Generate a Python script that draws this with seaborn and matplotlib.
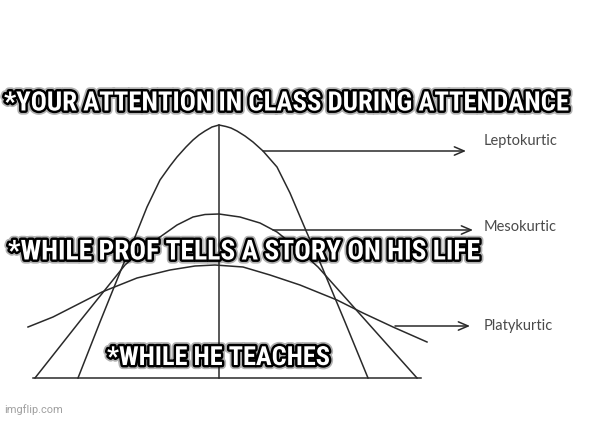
import matplotlib
matplotlib.use("Agg")
import matplotlib.pyplot as plt
import matplotlib.patheffects as pe
import seaborn as sns

# curves: x position and height above the baseline (px)
lepto_x = [78, 100, 123, 135, 147, 160, 170, 177, 186, 193, 199, 205, 212, 219, 226, 231, 237, 245, 253, 263, 277, 290, 307, 322, 345, 368]
lepto_h = [0, 56, 113, 141, 171, 198, 212, 221, 231, 238, 243, 247, 251, 253, 251.5, 250, 247, 242, 236, 227, 211, 185, 145, 111, 56, 0]

meso_x = [35, 80, 125, 142, 160, 177, 193, 205, 219, 240, 260, 277, 297, 318, 367, 417]
meso_h = [0, 57, 113, 128, 141, 153, 161, 163.5, 164, 161, 155, 146, 130, 111, 56, 0]

platy_x = [28, 53, 102, 137, 170, 195, 215, 243, 270, 300, 337, 363, 393, 427]
platy_h = [51, 61, 86, 100, 108, 112, 113, 111, 103, 93, 78, 65, 51, 36]

labels = ["Leptokurtic", "Mesokurtic", "Platykurtic"]
arrow_h = [227, 148, 52]
arrow_from = [263, 273, 395]
arrow_to = [466, 473, 470]
label_h = [237, 151, 52]

captions = ["*YOUR ATTENTION IN CLASS DURING ATTENDANCE",
            "*WHILE PROF TELLS A STORY ON HIS LIFE",
            "*WHILE HE TEACHES"]
caption_left = [4, 8, 107]
caption_right = [570, 480, 330]
caption_h = [275, 126, 20]

fig = plt.figure(figsize=(5.92, 4.21), dpi=100)
ax = fig.add_axes([0, 0, 1, 1])
ax.set_xlim(0, 592)
ax.set_ylim(-43, 378)
ax.axis("off")

ink = "#2a2a2a"
for xs, hs in [(lepto_x, lepto_h), (meso_x, meso_h), (platy_x, platy_h)]:
    sns.lineplot(x=xs, y=hs, sort=False, estimator=None, color=ink, linewidth=1.1, ax=ax)

# axes of the sketch
ax.plot([219, 219], [0, 253], color=ink, lw=1.1)
ax.plot([33, 421], [0, 0], color=ink, lw=1.1)

for lab, ah, a0, a1, lh in zip(labels, arrow_h, arrow_from, arrow_to, label_h):
    ax.annotate("", xy=(a1, ah), xytext=(a0, ah),
                arrowprops=dict(arrowstyle="->,head_length=0.7,head_width=0.3",
                                color=ink, lw=1.1, shrinkA=0, shrinkB=0))
    ax.text(484, lh, lab, family=["Lato", "DejaVu Sans"], fontsize=10.5,
            color="#4a4a4a", va="center", ha="left")

fx = [pe.Stroke(linewidth=6, foreground="black", alpha=0.3),
      pe.Stroke(linewidth=3.5, foreground="black"), pe.Normal()]
texts = []
for cap, x0, x1, h in zip(captions, caption_left, caption_right, caption_h):
    t = ax.text(x0, h, cap, family=["Roboto Condensed", "DejaVu Sans"],
                fontweight="bold", fontstretch="condensed", fontsize=18,
                color="white", va="center", ha="left", path_effects=fx)
    texts.append((t, x1 - x0))

wm = ax.text(4, -32, "imgflip.com", family=["Roboto", "DejaVu Sans"],
             fontsize=8.5, color="#a0a0a0", va="center", ha="left")
texts.append((wm, 58))

fig.canvas.draw()
r = fig.canvas.get_renderer()
for t, target in texts:
    w = t.get_window_extent(r).width
    t.set_fontsize(t.get_fontsize() * target / w)

fig.savefig("out.png", dpi=100, facecolor="white")
